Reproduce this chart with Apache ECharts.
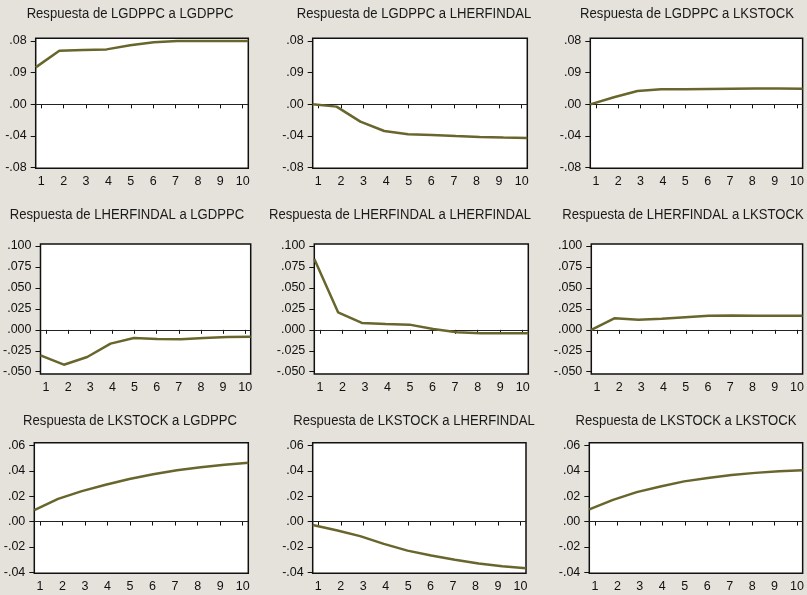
<!DOCTYPE html>
<html>
<head>
<meta charset="utf-8">
<script src="https://cdn.jsdelivr.net/npm/echarts@6/dist/echarts.min.js"></script>
<style>
html,body{margin:0;padding:0;background:#e5e2db;}
#chart{width:807px;height:595px;}
</style>
</head>
<body>
<div id="chart"></div>
<script>
// ---- data ----
const periods = [1, 2, 3, 4, 5, 6, 7, 8, 9, 10];
const variables = ['LGDPPC', 'LHERFINDAL', 'LKSTOCK'];

const lgdppc_lgdppc       = [0.0467, 0.0678, 0.0686, 0.0694, 0.0745, 0.0783, 0.0799, 0.0800, 0.0800, 0.0800];
const lgdppc_lherfindal   = [0.0000, -0.0029, -0.0219, -0.0337, -0.0379, -0.0387, -0.0400, -0.0412, -0.0420, -0.0425];
const lgdppc_lkstock      = [0.0000, 0.0090, 0.0168, 0.0189, 0.0190, 0.0194, 0.0198, 0.0200, 0.0200, 0.0198];

const lherfindal_lgdppc     = [-0.0304, -0.0416, -0.0324, -0.0165, -0.0097, -0.0110, -0.0113, -0.0097, -0.0086, -0.0082];
const lherfindal_lherfindal = [0.0846, 0.0209, 0.0082, 0.0070, 0.0062, 0.0010, -0.0030, -0.0042, -0.0042, -0.0042];
const lherfindal_lkstock    = [0.0000, 0.0139, 0.0119, 0.0131, 0.0151, 0.0167, 0.0171, 0.0167, 0.0167, 0.0167];

const lkstock_lgdppc     = [0.0091, 0.0179, 0.0240, 0.0290, 0.0336, 0.0373, 0.0405, 0.0429, 0.0448, 0.0464];
const lkstock_lherfindal = [-0.0027, -0.0069, -0.0115, -0.0176, -0.0229, -0.0267, -0.0301, -0.0331, -0.0352, -0.0368];
const lkstock_lkstock    = [0.0096, 0.0171, 0.0232, 0.0277, 0.0317, 0.0344, 0.0368, 0.0384, 0.0397, 0.0405];

// y tick values and their printed labels (as in the source)
const row1TickValues = [0.08, 0.04, 0, -0.04, -0.08];
const row1TickLabels = ['.08', '.09', '.00', '-.04', '-.08'];
const row2TickValues = [0.1, 0.075, 0.05, 0.025, 0, -0.025, -0.05];
const row2TickLabels = ['.100', '.075', '.050', '.025', '.000', '-.025', '-.050'];
const row3TickValues = [0.06, 0.04, 0.02, 0, -0.02, -0.04];
const row3TickLabels = ['.06', '.04', '.02', '.00', '-.02', '-.04'];
const xTickLabels = ['1', '2', '3', '4', '5', '6', '7', '8', '9', '10'];

const seriesData = [
  [lgdppc_lgdppc, lgdppc_lherfindal, lgdppc_lkstock],
  [lherfindal_lgdppc, lherfindal_lherfindal, lherfindal_lkstock],
  [lkstock_lgdppc, lkstock_lherfindal, lkstock_lkstock]
];
const rowTicks = [
  [row1TickValues, row1TickLabels],
  [row2TickValues, row2TickLabels],
  [row3TickValues, row3TickLabels]
];

// ---- layout (pixels) ----
const rowY = [ // [top, bottom, yMin, yMax, titleY]
  [38.3, 168.3, -0.0808, 0.0834, 14],
  [244, 374, -0.0527, 0.1024, 215],
  [442.7, 573.3, -0.0408, 0.0622, 421]
];
const colX = [ // per row: [left, right, titleCenterX]
  [[35.7, 248.3, 130], [312.7, 527.3, 414], [590.3, 805.3, 687]],
  [[36.7, 250.7, 127], [314.3, 528.3, 400], [591.3, 805.3, 683]],
  [[34.3, 248.3, 130], [312.7, 526.0, 414], [589.3, 803.7, 686]]
];

const FONT = "'Liberation Sans', Arial, Helvetica, sans-serif";
const LINE_COLOR = '#68662d';

const grids = [], xAxes = [], yAxes = [], series = [], graphics = [];
let k = 0;
for (let r = 0; r < 3; r++) {
  for (let c = 0; c < 3; c++) {
    const [top, bottom, yMin, yMax, titleY] = rowY[r];
    const [left, right, tcx] = colX[r][c];
    grids.push({
      left: left, top: top, width: right - left, height: bottom - top,
      show: true, backgroundColor: '#ffffff', borderColor: '#111111', borderWidth: 1.5
    });
    // display x axis (ticks & labels)
    xAxes.push({
      gridIndex: k, type: 'value', min: 0.75, max: 10.25,
      axisLine: { show: false },
      splitLine: { show: false },
      axisTick: { show: true, inside: false, length: 4, customValues: periods,
        lineStyle: { color: '#111', width: 1 } },
      axisLabel: { show: true, customValues: periods, margin: 7,
        fontFamily: FONT, fontSize: 12.5, color: '#111',
        formatter: v => xTickLabels[periods.indexOf(Math.round(v))] }
    });
    // data x axis (hidden)
    xAxes.push({
      gridIndex: k, type: 'value', min: 1, max: 10, show: false
    });
    const [tv, tl] = rowTicks[r];
    yAxes.push({
      gridIndex: k, type: 'value', min: yMin, max: yMax,
      axisLine: { show: false },
      splitLine: { show: false },
      axisTick: { show: true, inside: false, length: 5, customValues: tv,
        lineStyle: { color: '#111', width: 1 } },
      axisLabel: { show: true, customValues: tv, margin: 9,
        fontFamily: FONT, fontSize: 12.5, color: '#111',
        formatter: v => {
          let bi = 0, bd = Infinity;
          tv.forEach((t, i) => { const d = Math.abs(t - v); if (d < bd) { bd = d; bi = i; } });
          return tl[bi];
        } }
    });
    series.push({
      type: 'line',
      xAxisIndex: 2 * k + 1, yAxisIndex: k,
      data: periods.map((p, i) => [p, seriesData[r][c][i]]),
      symbol: 'none', smooth: false,
      lineStyle: { color: LINE_COLOR, width: 2.5 },
      z: 3,
      markLine: {
        silent: true, symbol: 'none', label: { show: false },
        lineStyle: { color: '#222', width: 1, type: 'solid' },
        data: [{ yAxis: 0 }],
        z: 2
      }
    });
    graphics.push({
      type: 'text', x: tcx, y: titleY, scaleX: 0.845, scaleY: 1,
      style: {
        text: 'Respuesta de ' + variables[r] + ' a ' + variables[c],
        fill: '#1a1a1a', font: '15.5px ' + FONT,
        align: 'center', verticalAlign: 'middle'
      }
    });
    k++;
  }
}

const chart = echarts.init(document.getElementById('chart'), null, { renderer: 'canvas' });
chart.setOption({
  backgroundColor: '#e5e2db',
  animation: false,
  grid: grids,
  xAxis: xAxes,
  yAxis: yAxes,
  series: series,
  graphic: graphics
});
</script>
</body>
</html>
